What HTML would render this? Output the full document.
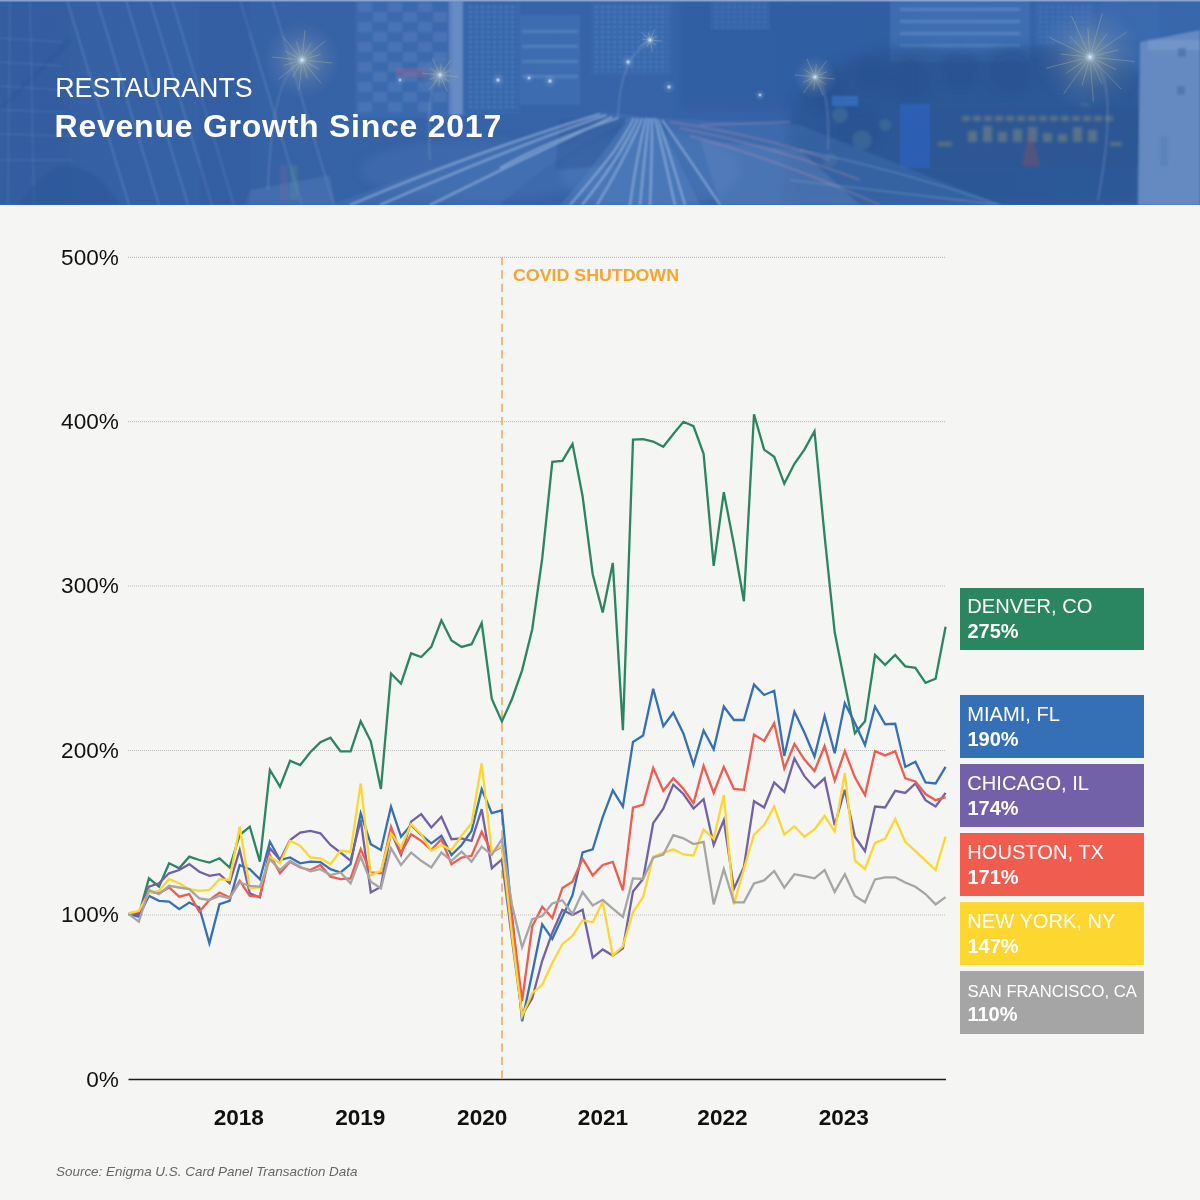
<!DOCTYPE html>
<html><head><meta charset="utf-8">
<style>
*{margin:0;padding:0;box-sizing:border-box}
html,body{width:1200px;height:1200px;overflow:hidden;background:#f5f5f3;font-family:"Liberation Sans",sans-serif}
#hdr{position:absolute;left:0;top:0;width:1200px;height:205px;overflow:hidden;background:#3766aa}
#hdr .t1{position:absolute;left:55.2px;top:73px;color:#fff;font-size:26.8px;line-height:30px;white-space:nowrap}
#hdr .t2{position:absolute;left:54.6px;top:108.3px;color:#fff;font-size:32px;font-weight:bold;line-height:36px;letter-spacing:0.75px;white-space:nowrap}
svg#chart{position:absolute;left:0;top:0}
.lg{position:absolute;left:959.8px;width:184.6px;height:62.6px;color:#fff}
.lg .nm{position:absolute;left:7.5px;top:6.8px;white-space:nowrap;line-height:24px}
.lg .pc{position:absolute;left:7.6px;top:31.5px;font-size:20px;font-weight:bold;line-height:24px}
.src{position:absolute;left:56px;top:1164.4px;font-size:13.45px;font-style:italic;color:#666;white-space:nowrap}
</style></head><body>
<div id="hdr">
<svg width="1200" height="205" viewBox="0 0 1200 205" style="position:absolute;left:0;top:0">
<defs>
<radialGradient id="glow"><stop offset="0" stop-color="#f4f8ff" stop-opacity="1"/><stop offset="0.12" stop-color="#b8d2f5" stop-opacity="0.8"/><stop offset="0.4" stop-color="#7fa0d0" stop-opacity="0.3"/><stop offset="1" stop-color="#6f90c8" stop-opacity="0"/></radialGradient>
<radialGradient id="yglow"><stop offset="0" stop-color="#c9c89a" stop-opacity="0.55"/><stop offset="0.6" stop-color="#8f9fb0" stop-opacity="0.18"/><stop offset="1" stop-color="#6f90c8" stop-opacity="0"/></radialGradient>
<linearGradient id="base" x1="0" y1="0" x2="1" y2="0">
<stop offset="0" stop-color="#3561a4"/><stop offset="0.3" stop-color="#3662a6"/><stop offset="0.55" stop-color="#3764a9"/><stop offset="0.8" stop-color="#3562a6"/><stop offset="1" stop-color="#3867ab"/></linearGradient>
<filter id="bl" x="-5%" y="-5%" width="110%" height="110%"><feGaussianBlur stdDeviation="1.2"/></filter>
<filter id="bl2" x="-20%" y="-20%" width="140%" height="140%"><feGaussianBlur stdDeviation="4"/></filter>
<pattern id="win" width="9" height="8" patternUnits="userSpaceOnUse"><rect width="9" height="8" fill="none"/><rect x="1" y="2" width="6" height="3" fill="#6d98d2" opacity="0.28"/></pattern>
<pattern id="win2" width="6" height="5" patternUnits="userSpaceOnUse"><rect x="1" y="1" width="3" height="2" fill="#62a8e2" opacity="0.35"/></pattern>
</defs>
<rect width="1200" height="205" fill="url(#base)"/>
<g filter="url(#bl2)">
<rect x="680" y="0" width="230" height="110" fill="#2f5b9f" opacity="0.6"/>
<path d="M790,205 L795,120 Q820,60 880,58 Q940,40 990,62 Q1050,48 1105,58 L1140,70 L1140,205 Z" fill="#2f5a9b" opacity="0.6"/>
<rect x="0" y="0" width="70" height="205" fill="#30599c" opacity="0.5"/>
<ellipse cx="650" cy="170" rx="90" ry="40" fill="#5a86c2" opacity="0.35"/>
<ellipse cx="480" cy="170" rx="120" ry="30" fill="#4c7aba" opacity="0.3"/>
</g>
<g filter="url(#bl)">
<!-- left building facade grid -->
<g stroke="#5f8ac6" stroke-width="1" opacity="0.5" fill="none">
<path d="M0,38 L62,42"/><path d="M0,62 L62,66"/><path d="M0,86 L64,90"/><path d="M0,110 L66,112"/><path d="M0,134 L70,136"/><path d="M0,160 L72,160"/><path d="M10,0 L8,205"/><path d="M30,0 L34,205"/>
</g>
<g stroke="#6a92cc" stroke-width="1.6" opacity="0.5" fill="none">
<path d="M67,0 L129,205"/><path d="M97,0 L159,205"/><path d="M126,0 L188,205"/><path d="M150,0 L212,205"/><path d="M172,0 L234,205"/><path d="M240,0 L302,205"/><path d="M272,0 L334,205"/>
</g>
<path d="M20,205 Q40,170 70,165 Q100,170 120,205 Z" fill="#2e5897" opacity="0.5"/>
<path d="M245,205 L250,190 L330,175 L335,205 Z" fill="#5a84bf" opacity="0.35"/>
<rect x="280" y="165" width="8" height="35" fill="#7a6aa0" opacity="0.3"/><rect x="290" y="165" width="8" height="35" fill="#5f9a8a" opacity="0.25"/>
<rect x="200" y="0" width="50" height="205" fill="#325d9e" opacity="0.35"/>
<path d="M70,40 L0,110" stroke="#2d5595" stroke-width="3" opacity="0.4"/>
<!-- mid buildings -->
<rect x="355" y="0" width="95" height="118" fill="#3f6eb2" opacity="0.55"/>
<g fill="#5d8ac8" opacity="0.35"><rect x="358" y="2" width="14" height="10"/><rect x="388" y="2" width="14" height="10"/><rect x="418" y="2" width="14" height="10"/><rect x="373" y="12" width="14" height="10"/><rect x="403" y="12" width="14" height="10"/><rect x="433" y="12" width="14" height="10"/><rect x="358" y="22" width="14" height="10"/><rect x="388" y="22" width="14" height="10"/><rect x="418" y="22" width="14" height="10"/><rect x="373" y="32" width="14" height="10"/><rect x="403" y="32" width="14" height="10"/><rect x="433" y="32" width="14" height="10"/><rect x="358" y="42" width="14" height="10"/><rect x="388" y="42" width="14" height="10"/><rect x="418" y="42" width="14" height="10"/><rect x="373" y="52" width="14" height="10"/><rect x="403" y="52" width="14" height="10"/><rect x="433" y="52" width="14" height="10"/><rect x="358" y="62" width="14" height="10"/><rect x="388" y="62" width="14" height="10"/><rect x="418" y="62" width="14" height="10"/><rect x="373" y="72" width="14" height="10"/><rect x="403" y="72" width="14" height="10"/><rect x="433" y="72" width="14" height="10"/><rect x="358" y="82" width="14" height="10"/><rect x="388" y="82" width="14" height="10"/><rect x="418" y="82" width="14" height="10"/><rect x="373" y="92" width="14" height="10"/><rect x="403" y="92" width="14" height="10"/><rect x="433" y="92" width="14" height="10"/><rect x="358" y="102" width="14" height="10"/><rect x="388" y="102" width="14" height="10"/><rect x="418" y="102" width="14" height="10"/></g>
<rect x="449" y="0" width="14" height="115" fill="#8aa9d8" opacity="0.45"/>
<rect x="463" y="0" width="58" height="115" fill="#3b6aae" opacity="0.55"/>
<rect x="466" y="4" width="52" height="105" fill="url(#win2)"/>
<rect x="520" y="15" width="60" height="90" fill="#4474b8" opacity="0.55"/>
<g fill="#7fa3d6" opacity="0.3"><rect x="522" y="30" width="56" height="3"/><rect x="522" y="45" width="56" height="3"/><rect x="522" y="60" width="56" height="3"/><rect x="522" y="75" width="56" height="3"/></g>
<rect x="396" y="68" width="30" height="9" fill="#b0608a" opacity="0.35"/>
<rect x="590" y="0" width="82" height="75" fill="#3a6aae" opacity="0.7"/>
<rect x="594" y="4" width="74" height="68" fill="url(#win2)"/>
<rect x="710" y="0" width="60" height="30" fill="#3d6cb0" opacity="0.5"/>
<rect x="713" y="2" width="54" height="26" fill="url(#win2)" opacity="0.7"/>
<rect x="890" y="0" width="140" height="62" fill="#4272b6" opacity="0.7"/>
<g fill="#8ab0e0" opacity="0.28"><rect x="900" y="8" width="120" height="3"/><rect x="900" y="20" width="120" height="3"/><rect x="900" y="32" width="120" height="3"/><rect x="900" y="44" width="120" height="3"/></g>
<rect x="1035" y="0" width="60" height="45" fill="#3b6ab0" opacity="0.6"/>
<rect x="1038" y="3" width="54" height="40" fill="url(#win2)" opacity="0.6"/>
<rect x="1100" y="0" width="60" height="40" fill="#3d6db3" opacity="0.5"/>
<!-- tree texture -->
<g filter="url(#bl2)">
<path d="M780,205 L790,110 Q805,70 850,60 Q900,35 960,55 Q1010,40 1060,50 Q1110,55 1140,75 L1140,205 Z" fill="#2a5290" opacity="0.55"/>
<g fill="#2a5190" opacity="0.5"><circle cx="830" cy="95" r="22"/><circle cx="870" cy="75" r="20"/><circle cx="910" cy="80" r="24"/><circle cx="960" cy="70" r="22"/><circle cx="1010" cy="72" r="24"/><circle cx="1060" cy="68" r="22"/><circle cx="1100" cy="80" r="20"/><circle cx="860" cy="130" r="25"/><circle cx="820" cy="150" r="20"/></g>
</g>
<g fill="#5d8aa0" opacity="0.3" filter="url(#bl)"><circle cx="840" cy="115" r="8"/><circle cx="862" cy="140" r="10"/><circle cx="830" cy="160" r="7"/><circle cx="885" cy="125" r="6"/><circle cx="1085" cy="110" r="7"/></g>
<!-- billboard -->
<rect x="900" y="104" width="30" height="64" fill="#2b62b8" opacity="0.85"/>
<rect x="930" y="106" width="212" height="62" fill="#2d5694" opacity="0.9"/>
<g fill="#a8a674" opacity="0.35" filter="url(#bl)"><rect x="962" y="116" width="8" height="5"/><rect x="973" y="116" width="8" height="5"/><rect x="984" y="116" width="8" height="5"/><rect x="995" y="116" width="8" height="5"/><rect x="1006" y="116" width="8" height="5"/><rect x="1017" y="116" width="8" height="5"/><rect x="1028" y="116" width="8" height="5"/><rect x="1039" y="116" width="8" height="5"/><rect x="1050" y="116" width="8" height="5"/><rect x="1061" y="116" width="8" height="5"/><rect x="1072" y="116" width="8" height="5"/><rect x="1083" y="116" width="8" height="5"/><rect x="1094" y="116" width="8" height="5"/><rect x="1105" y="116" width="8" height="5"/><rect x="968" y="131" width="9" height="11"/><rect x="983" y="126" width="9" height="16"/><rect x="998" y="132" width="9" height="10"/><rect x="1013" y="129" width="9" height="13"/><rect x="1028" y="127" width="9" height="15"/><rect x="1043" y="133" width="9" height="9"/><rect x="1058" y="134" width="9" height="8"/><rect x="1073" y="127" width="9" height="15"/><rect x="1088" y="130" width="9" height="12"/><rect x="938" y="142" width="14" height="4"/><rect x="1110" y="142" width="12" height="4"/></g>
<path d="M1022,166 L1030,130 L1040,166 Z" fill="#a0505a" opacity="0.35" filter="url(#bl)"/>
<!-- white building right -->
<path d="M1140,42 L1200,30 L1200,205 L1138,205 Z" fill="#6d90c6" opacity="0.85"/>
<rect x="1148" y="40" width="52" height="10" fill="#7c9ccf" opacity="0.6"/>
<rect x="1178" y="48" width="8" height="9" fill="#4a70ad" opacity="0.7"/><rect x="1177" y="86" width="8" height="9" fill="#4a70ad" opacity="0.7"/><rect x="1160" y="136" width="8" height="30" fill="#5a7fba" opacity="0.6"/>
<!-- roads -->
<path d="M330,205 Q450,160 600,112 L640,116 Q560,150 500,205 Z" fill="#4a78b8" opacity="0.4"/>
<path d="M560,120 L625,118 L618,165 L555,170 Z" fill="#2f5898" opacity="0.45"/>
<path d="M560,205 Q600,160 628,118 L655,118 Q680,160 700,205 Z" fill="#5381bf" opacity="0.45"/>
<path d="M660,118 L800,125 L1000,205 L720,205 Z" fill="#4a78b8" opacity="0.35"/>
<path d="M700,140 L800,150 L860,205 L720,205 Z" fill="#6c90c6" opacity="0.3"/>
<g fill="none" stroke="#b8d3f4" stroke-width="1.6" opacity="0.6">
<path d="M350,205 Q480,150 600,114"/><path d="M380,205 Q500,152 606,115"/><path d="M430,205 Q520,160 612,117"/><path d="M500,168 Q550,140 618,118"/>
<path d="M570,205 Q600,170 615,150 Q628,130 634,118"/><path d="M582,205 Q610,170 624,145 Q634,128 638,118"/><path d="M597,205 Q618,170 630,145 Q640,125 642,118"/>
<path d="M630,205 Q636,160 646,118"/><path d="M640,205 Q644,160 649,118"/><path d="M650,205 Q652,160 652,118"/>
<path d="M675,205 Q665,160 655,118"/><path d="M685,205 Q672,160 658,119"/><path d="M720,205 Q690,160 662,120"/>
</g>
<g fill="none" stroke="#c890aa" stroke-width="1.3" opacity="0.4"><path d="M670,122 Q760,135 830,160"/><path d="M680,128 Q770,145 860,180"/><path d="M690,136 Q780,160 880,205"/><path d="M700,125 L790,122"/></g>
<g fill="none" stroke="#8fb2e0" stroke-width="1" opacity="0.45"><path d="M790,180 L1000,205"/><path d="M800,150 Q900,170 1000,205"/></g>
<rect x="452" y="0" width="10" height="115" fill="#7a9fd4" opacity="0.35"/>
<!-- street lamps poles -->
<g stroke="#7f9fd0" stroke-width="1.2" opacity="0.5" fill="none">
<path d="M302,62 Q272,70 268,190"/><path d="M1092,60 Q1120,80 1098,200"/><path d="M815,78 Q830,85 828,150"/><path d="M650,42 Q620,55 618,118"/><path d="M440,77 Q425,85 430,160"/>
</g>
<rect x="832" y="96" width="26" height="10" fill="#3a7ad0" opacity="0.6"/>
</g>
<rect width="1200" height="1.5" fill="#86a3d0"/>
<!-- glows -->
<g stroke="#d8cf9a" stroke-width="0.9" opacity="0.35" fill="none"><path d="M302.0,60.0 L331.9,63.0 M302.0,60.0 L319.2,69.2 M302.0,60.0 L321.0,83.2 M302.0,60.0 L307.6,78.7 M302.0,60.0 L299.0,89.9 M302.0,60.0 L292.8,77.2 M302.0,60.0 L278.8,79.0 M302.0,60.0 L283.3,65.6 M302.0,60.0 L272.1,57.0 M302.0,60.0 L284.8,50.8 M302.0,60.0 L283.0,36.8 M302.0,60.0 L296.4,41.3 M302.0,60.0 L305.0,30.1 M302.0,60.0 L311.2,42.8 M302.0,60.0 L325.2,41.0 M302.0,60.0 L320.7,54.4 "/><path d="M1090.0,57.0 L1134.8,61.5 M1090.0,57.0 L1116.3,69.7 M1090.0,57.0 L1121.4,89.2 M1090.0,57.0 L1102.0,83.7 M1090.0,57.0 L1093.4,101.9 M1090.0,57.0 L1082.1,85.2 M1090.0,57.0 L1063.7,93.5 M1090.0,57.0 L1065.8,73.5 M1090.0,57.0 L1046.4,68.1 M1090.0,57.0 L1060.9,54.1 M1090.0,57.0 L1049.5,37.5 M1090.0,57.0 L1069.6,36.1 M1090.0,57.0 L1071.5,16.0 M1090.0,57.0 L1087.8,27.8 M1090.0,57.0 L1102.2,13.7 M1090.0,57.0 L1107.1,33.3 M1090.0,57.0 L1127.2,31.7 M1090.0,57.0 L1118.3,49.8 "/><path d="M815.0,77.0 L834.9,79.0 M815.0,77.0 L825.6,84.6 M815.0,77.0 L823.2,95.2 M815.0,77.0 L813.7,89.9 M815.0,77.0 L803.3,93.2 M815.0,77.0 L803.1,82.3 M815.0,77.0 L795.1,75.0 M815.0,77.0 L804.4,69.4 M815.0,77.0 L806.8,58.8 M815.0,77.0 L816.3,64.1 M815.0,77.0 L826.7,60.8 M815.0,77.0 L826.9,71.7 "/><path d="M440.0,75.0 L457.9,76.8 M440.0,75.0 L449.5,81.8 M440.0,75.0 L447.4,91.4 M440.0,75.0 L438.8,86.6 M440.0,75.0 L429.5,89.6 M440.0,75.0 L429.3,79.8 M440.0,75.0 L422.1,73.2 M440.0,75.0 L430.5,68.2 M440.0,75.0 L432.6,58.6 M440.0,75.0 L441.2,63.4 M440.0,75.0 L450.5,60.4 M440.0,75.0 L450.7,70.2 "/><path d="M650.0,40.0 L661.9,41.2 M650.0,40.0 L655.8,45.2 M650.0,40.0 L652.6,51.7 M650.0,40.0 L646.9,47.1 M650.0,40.0 L639.6,46.0 M650.0,40.0 L642.2,39.2 M650.0,40.0 L641.0,32.0 M650.0,40.0 L648.3,32.4 M650.0,40.0 L654.8,29.0 M650.0,40.0 L656.7,36.1 "/></g>

<g>
<circle cx="302" cy="60" r="40" fill="url(#yglow)"/>
<circle cx="1090" cy="57" r="55" fill="url(#yglow)"/>
<circle cx="815" cy="77" r="22" fill="url(#yglow)"/>
<circle cx="440" cy="75" r="20" fill="url(#yglow)"/>
<circle cx="302" cy="60" r="14" fill="url(#glow)"/>
<circle cx="440" cy="75" r="10" fill="url(#glow)"/>
<circle cx="650" cy="40" r="10" fill="url(#glow)"/>
<circle cx="628" cy="62" r="8" fill="url(#glow)"/>
<circle cx="815" cy="77" r="10" fill="url(#glow)"/>
<circle cx="1090" cy="57" r="16" fill="url(#glow)"/>
<circle cx="498" cy="80" r="8" fill="url(#glow)"/>
<circle cx="760" cy="95" r="6" fill="url(#glow)"/>
<circle cx="400" cy="80" r="6" fill="url(#glow)"/>
<circle cx="550" cy="81" r="8" fill="url(#glow)"/>
<circle cx="669" cy="87" r="7" fill="url(#glow)"/>
<circle cx="529" cy="78" r="6" fill="url(#glow)"/>
</g>
</svg>









<div class="t1">RESTAURANTS</div>
<div class="t2">Revenue Growth Since 2017</div>
</div>
<svg id="chart" width="1200" height="1200" viewBox="0 0 1200 1200">
<g stroke="#bdbdbd" stroke-width="1.2" stroke-dasharray="1 1">
<line x1="128" y1="257.3" x2="946" y2="257.3"/>
<line x1="128" y1="421.6" x2="946" y2="421.6"/>
<line x1="128" y1="586.0" x2="946" y2="586.0"/>
<line x1="128" y1="750.5" x2="946" y2="750.5"/>
<line x1="128" y1="915.0" x2="946" y2="915.0"/>
</g>
<line x1="128.5" y1="1079.5" x2="946" y2="1079.5" stroke="#1a1a1a" stroke-width="1.6"/>
<line x1="502" y1="257" x2="502" y2="1079" stroke="#f5b86c" stroke-width="2" stroke-dasharray="8.3 5.03"/>
<text x="513" y="281.3" fill="#f6a530" font-size="17" font-weight="bold" textLength="166" lengthAdjust="spacingAndGlyphs">COVID SHUTDOWN</text>
<g fill="none" stroke-width="2.3" stroke-linejoin="miter" stroke-miterlimit="4">
<path d="M128.8,914.2 L138.8,915.0 L148.9,878.3 L159.0,886.7 L169.1,863.3 L179.2,868.3 L189.3,856.7 L199.3,860.0 L209.4,862.5 L219.5,858.3 L229.6,867.5 L239.7,835.0 L249.8,826.7 L259.9,861.7 L269.9,770.0 L280.0,786.7 L290.1,760.8 L300.2,765.1 L310.3,752.3 L320.4,742.2 L330.5,737.7 L340.5,751.4 L350.6,751.4 L360.7,721.2 L370.8,741.3 L380.9,789.0 L391.0,673.5 L401.0,683.6 L411.1,653.3 L421.2,657.0 L431.3,646.9 L441.4,620.3 L451.5,640.5 L461.6,646.9 L471.6,644.2 L481.7,623.1 L491.8,699.0 L501.9,721.4 L512.0,699.0 L522.1,670.4 L532.2,629.5 L542.2,558.7 L552.3,461.8 L562.4,460.9 L572.5,443.9 L582.6,496.3 L592.7,574.2 L602.7,612.5 L612.8,562.9 L622.9,730.1 L633.0,439.7 L643.1,439.1 L653.2,441.6 L663.3,446.8 L673.3,434.0 L683.4,421.8 L693.5,426.1 L703.6,453.8 L713.7,565.8 L723.8,492.1 L733.9,544.5 L743.9,601.2 L754.0,414.2 L764.1,449.6 L774.2,456.7 L784.3,483.6 L794.4,463.8 L804.4,449.6 L814.5,431.2 L824.6,536.0 L834.7,632.3 L844.8,683.3 L854.9,733.2 L865.0,721.3 L875.0,655.0 L885.1,664.9 L895.2,655.0 L905.3,666.3 L915.4,667.8 L925.5,682.9 L935.6,678.7 L945.6,626.7" stroke="#2a8660"/>
<path d="M128.8,914.2 L138.8,916.7 L148.9,895.8 L159.0,900.8 L169.1,901.7 L179.2,909.2 L189.3,902.5 L199.3,907.5 L209.4,943.3 L219.5,904.2 L229.6,900.8 L239.7,865.0 L249.8,869.2 L259.9,879.2 L269.9,841.7 L280.0,860.0 L290.1,857.5 L300.2,863.3 L310.3,861.7 L320.4,862.1 L330.5,869.2 L340.5,872.5 L350.6,864.2 L360.7,813.3 L370.8,844.2 L380.9,850.0 L391.0,806.7 L401.0,836.7 L411.1,825.0 L421.2,835.0 L431.3,843.3 L441.4,835.8 L451.5,855.0 L461.6,845.0 L471.6,830.8 L481.7,789.2 L491.8,813.1 L501.9,810.3 L512.0,915.8 L522.1,1021.2 L532.2,973.3 L542.2,924.4 L552.3,939.0 L562.4,917.1 L572.5,895.2 L582.6,852.5 L592.7,849.3 L602.7,817.0 L612.8,790.4 L622.9,806.6 L633.0,741.9 L643.1,735.6 L653.2,688.8 L663.3,726.2 L673.3,712.7 L683.4,733.5 L693.5,764.8 L703.6,730.4 L713.7,749.2 L723.8,706.5 L733.9,720.0 L743.9,720.0 L754.0,684.6 L764.1,695.0 L774.2,690.8 L784.3,755.9 L794.4,711.7 L804.4,732.5 L814.5,756.5 L824.6,715.8 L834.7,753.3 L844.8,703.3 L854.9,723.1 L865.0,745.0 L875.0,706.5 L885.1,724.2 L895.2,723.8 L905.3,766.9 L915.4,761.7 L925.5,782.5 L935.6,783.5 L945.6,766.9" stroke="#3570b7"/>
<path d="M128.8,914.2 L138.8,914.2 L148.9,886.7 L159.0,883.3 L169.1,873.3 L179.2,870.0 L189.3,864.2 L199.3,871.7 L209.4,875.8 L219.5,874.2 L229.6,883.3 L239.7,850.0 L249.8,893.3 L259.9,897.5 L269.9,848.3 L280.0,860.0 L290.1,840.0 L300.2,832.5 L310.3,830.8 L320.4,833.3 L330.5,845.0 L340.5,852.5 L350.6,860.8 L360.7,820.0 L370.8,892.5 L380.9,886.7 L391.0,831.7 L401.0,855.0 L411.1,821.7 L421.2,814.2 L431.3,827.5 L441.4,816.7 L451.5,839.2 L461.6,838.3 L471.6,840.8 L481.7,809.2 L491.8,868.2 L501.9,859.5 L512.0,939.3 L522.1,1015.0 L532.2,998.3 L542.2,960.8 L552.3,932.7 L562.4,909.8 L572.5,915.0 L582.6,909.8 L592.7,957.7 L602.7,949.4 L612.8,955.6 L622.9,948.3 L633.0,891.5 L643.1,879.0 L653.2,823.2 L663.3,808.6 L673.3,784.6 L683.4,794.0 L693.5,808.5 L703.6,799.2 L713.7,845.0 L723.8,820.0 L733.9,888.8 L743.9,866.9 L754.0,801.2 L764.1,807.5 L774.2,782.5 L784.3,791.9 L794.4,758.5 L804.4,776.2 L814.5,787.7 L824.6,778.3 L834.7,825.2 L844.8,789.8 L854.9,836.7 L865.0,851.2 L875.0,806.5 L885.1,807.5 L895.2,790.8 L905.3,792.9 L915.4,783.5 L925.5,800.2 L935.6,806.5 L945.6,792.9" stroke="#7261a8"/>
<path d="M128.8,913.3 L138.8,911.7 L148.9,891.7 L159.0,893.3 L169.1,887.5 L179.2,896.7 L189.3,894.2 L199.3,911.7 L209.4,900.0 L219.5,892.5 L229.6,897.5 L239.7,880.8 L249.8,895.8 L259.9,896.7 L269.9,855.0 L280.0,873.3 L290.1,861.7 L300.2,867.5 L310.3,870.0 L320.4,865.0 L330.5,876.7 L340.5,879.2 L350.6,878.3 L360.7,849.2 L370.8,872.5 L380.9,873.3 L391.0,826.7 L401.0,853.3 L411.1,834.2 L421.2,840.8 L431.3,850.0 L441.4,839.2 L451.5,864.2 L461.6,857.5 L471.6,855.8 L481.7,831.7 L491.8,852.4 L501.9,846.5 L512.0,918.2 L522.1,1001.0 L532.2,926.5 L542.2,906.7 L552.3,918.1 L562.4,887.9 L572.5,881.7 L582.6,858.8 L592.7,875.3 L602.7,864.9 L612.8,861.8 L622.9,890.4 L633.0,807.6 L643.1,804.5 L653.2,767.9 L663.3,790.8 L673.3,778.3 L683.4,788.8 L693.5,803.3 L703.6,765.8 L713.7,792.9 L723.8,766.9 L733.9,788.8 L743.9,789.8 L754.0,734.6 L764.1,740.8 L774.2,723.1 L784.3,768.4 L794.4,744.0 L804.4,759.6 L814.5,771.0 L824.6,746.0 L834.7,780.4 L844.8,751.2 L854.9,777.3 L865.0,795.0 L875.0,751.2 L885.1,755.4 L895.2,751.2 L905.3,778.3 L915.4,781.5 L925.5,794.0 L935.6,800.2 L945.6,797.1" stroke="#f05d4f"/>
<path d="M128.8,913.3 L138.8,910.8 L148.9,893.3 L159.0,890.8 L169.1,879.2 L179.2,883.3 L189.3,889.2 L199.3,890.8 L209.4,890.0 L219.5,879.2 L229.6,880.0 L239.7,826.7 L249.8,888.3 L259.9,887.5 L269.9,856.7 L280.0,863.3 L290.1,840.8 L300.2,845.8 L310.3,857.5 L320.4,858.3 L330.5,864.2 L340.5,850.8 L350.6,851.7 L360.7,783.3 L370.8,875.0 L380.9,870.8 L391.0,833.3 L401.0,847.5 L411.1,824.2 L421.2,834.2 L431.3,850.8 L441.4,845.0 L451.5,850.0 L461.6,835.8 L471.6,823.3 L481.7,763.3 L491.8,851.9 L501.9,845.6 L512.0,935.0 L522.1,1016.0 L532.2,993.1 L542.2,984.8 L552.3,962.9 L562.4,944.2 L572.5,935.8 L582.6,920.2 L592.7,922.3 L602.7,901.9 L612.8,955.6 L622.9,946.2 L633.0,912.3 L643.1,897.2 L653.2,856.6 L663.3,852.9 L673.3,849.3 L683.4,854.5 L693.5,855.5 L703.6,829.4 L713.7,838.8 L723.8,795.0 L733.9,904.4 L743.9,869.0 L754.0,834.6 L764.1,825.2 L774.2,806.5 L784.3,834.6 L794.4,826.2 L804.4,836.7 L814.5,829.4 L824.6,815.8 L834.7,831.5 L844.8,773.1 L854.9,860.6 L865.0,869.0 L875.0,842.9 L885.1,838.8 L895.2,819.0 L905.3,841.9 L915.4,851.2 L925.5,860.6 L935.6,870.0 L945.6,836.7" stroke="#fdd630"/>
<path d="M128.8,914.2 L138.8,921.7 L148.9,890.0 L159.0,894.2 L169.1,885.8 L179.2,887.5 L189.3,889.2 L199.3,898.3 L209.4,900.0 L219.5,895.8 L229.6,898.3 L239.7,882.5 L249.8,885.8 L259.9,886.7 L269.9,859.2 L280.0,870.0 L290.1,860.8 L300.2,866.7 L310.3,871.2 L320.4,869.2 L330.5,875.0 L340.5,872.5 L350.6,883.3 L360.7,856.7 L370.8,881.7 L380.9,888.3 L391.0,848.3 L401.0,865.0 L411.1,852.5 L421.2,860.8 L431.3,867.5 L441.4,852.5 L451.5,860.8 L461.6,851.7 L471.6,861.7 L481.7,846.7 L491.8,854.8 L501.9,839.1 L512.0,905.0 L522.1,947.3 L532.2,919.2 L542.2,916.0 L552.3,903.5 L562.4,900.4 L572.5,914.0 L582.6,892.1 L592.7,905.5 L602.7,899.8 L612.8,908.6 L622.9,917.0 L633.0,878.4 L643.1,879.0 L653.2,857.6 L663.3,854.5 L673.3,835.2 L683.4,838.3 L693.5,844.1 L703.6,841.9 L713.7,904.4 L723.8,869.0 L733.9,902.3 L743.9,902.3 L754.0,883.5 L764.1,880.4 L774.2,871.0 L784.3,887.7 L794.4,874.2 L804.4,876.2 L814.5,878.3 L824.6,870.0 L834.7,891.9 L844.8,874.2 L854.9,896.0 L865.0,902.3 L875.0,879.4 L885.1,877.3 L895.2,877.3 L905.3,882.5 L915.4,886.7 L925.5,894.0 L935.6,904.4 L945.6,897.1" stroke="#a5a5a5"/>
</g>
<g font-size="22.6" text-anchor="end" fill="#111">
<text x="118.9" y="264.5">500%</text>
<text x="118.9" y="428.8">400%</text>
<text x="118.9" y="593.2">300%</text>
<text x="118.9" y="757.7">200%</text>
<text x="118.9" y="922.2">100%</text>
<text x="118.9" y="1086.7">0%</text>
</g>
<g font-size="22.6" font-weight="bold" text-anchor="middle" fill="#111">
<text x="238.8" y="1125">2018</text>
<text x="360.3" y="1125">2019</text>
<text x="482.2" y="1125">2020</text>
<text x="603.0" y="1125">2021</text>
<text x="722.5" y="1125">2022</text>
<text x="843.8" y="1125">2023</text>
</g>
</svg>
<div class="lg" style="top:587.5px;background:#2a8660"><div class="nm" style="font-size:20.10px">DENVER, CO</div><div class="pc">275%</div></div>
<div class="lg" style="top:695.3px;background:#3570b7"><div class="nm" style="font-size:20.10px">MIAMI, FL</div><div class="pc">190%</div></div>
<div class="lg" style="top:764.2px;background:#7261a8"><div class="nm" style="font-size:20.10px">CHICAGO, IL</div><div class="pc">174%</div></div>
<div class="lg" style="top:833.0px;background:#f05d4f"><div class="nm" style="font-size:20.10px">HOUSTON, TX</div><div class="pc">171%</div></div>
<div class="lg" style="top:902.0px;background:#fdd630"><div class="nm" style="font-size:20.10px">NEW YORK, NY</div><div class="pc">147%</div></div>
<div class="lg" style="top:971.2px;background:#a5a5a5"><div class="nm" style="font-size:16.65px;top:9px;left:7.8px">SAN FRANCISCO, CA</div><div class="pc" style="top:30.8px">110%</div></div>

<div class="src">Source: Enigma U.S. Card Panel Transaction Data</div>
</body></html>
